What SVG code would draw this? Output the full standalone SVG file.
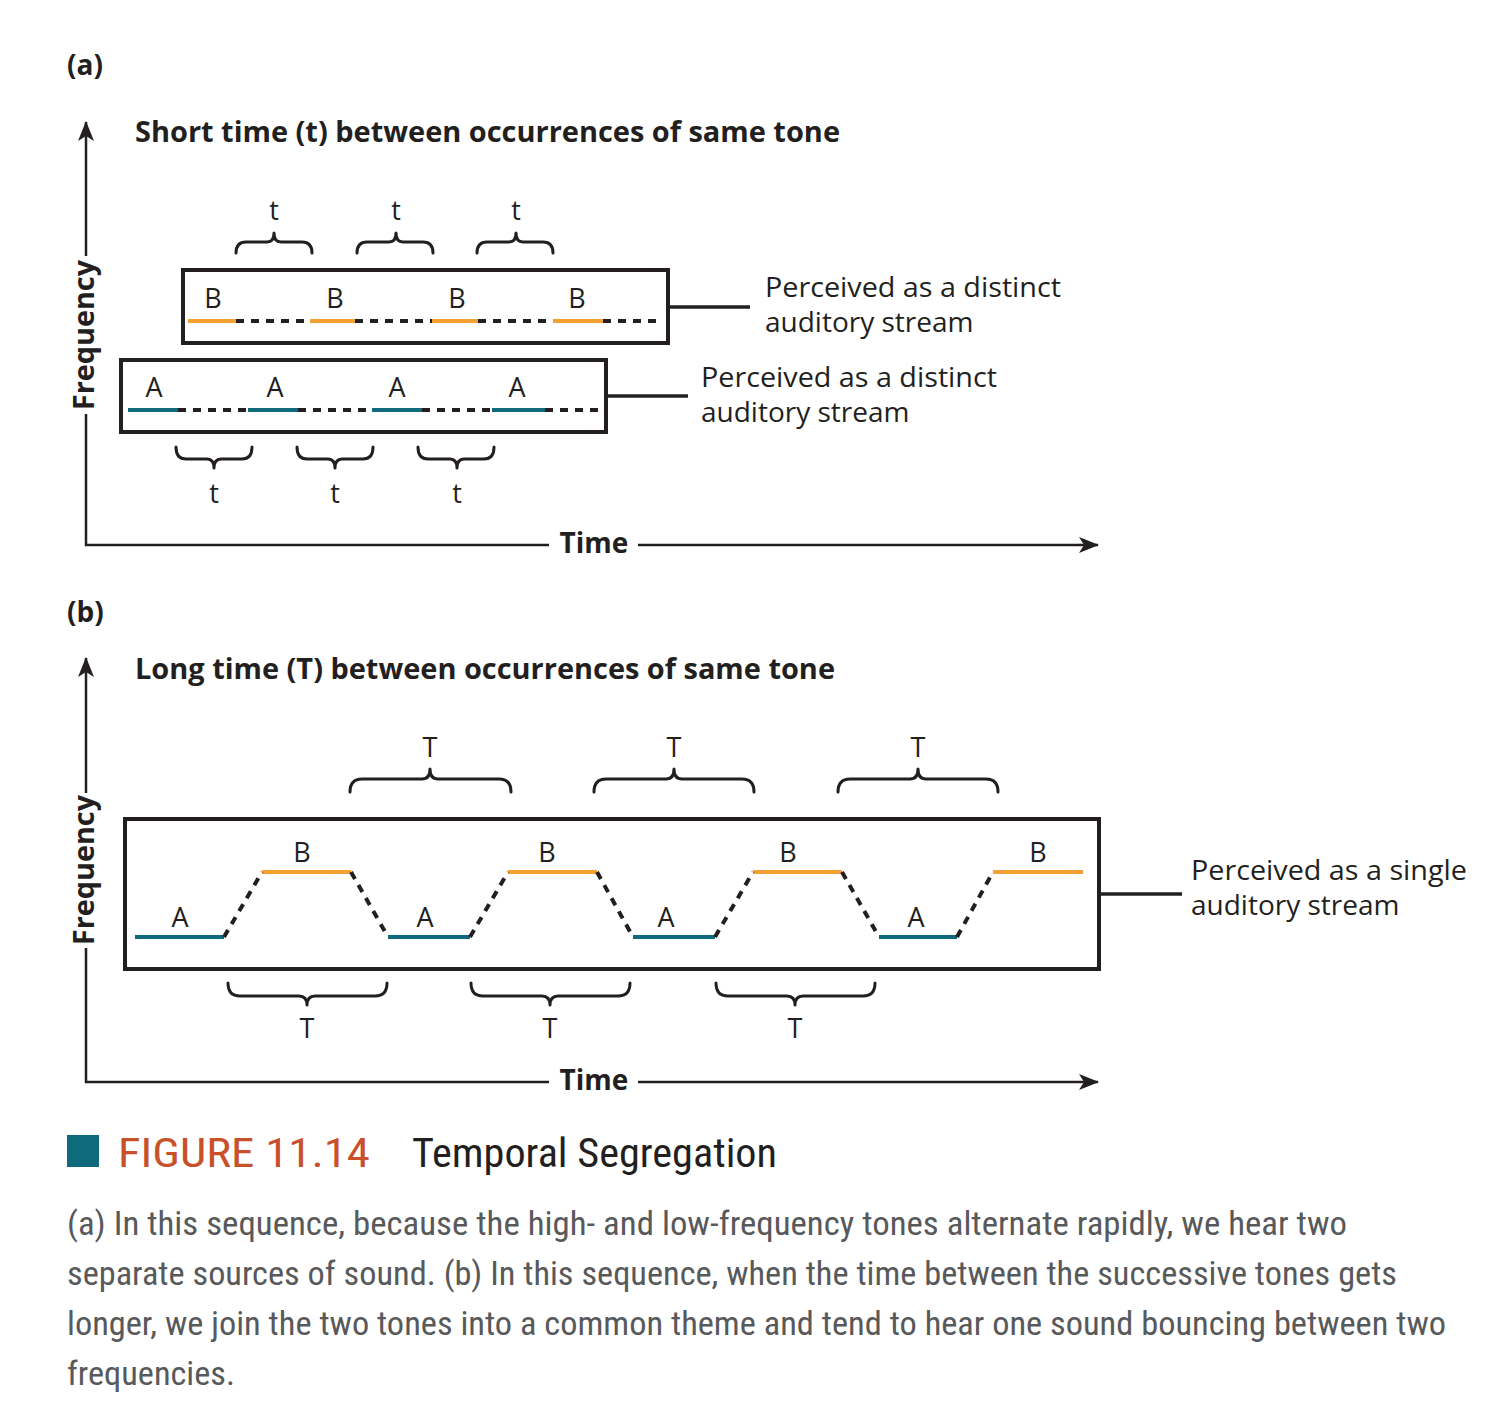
<svg xmlns="http://www.w3.org/2000/svg" width="1505" height="1418" viewBox="0 0 1505 1418">
<style>
.bg{fill:#fff}
.axis{stroke:#231f20;stroke-width:2.5;fill:none}
.box{stroke:#231f20;stroke-width:4;fill:none}
.conn{stroke:#231f20;stroke-width:3.5;fill:none}
.brace{stroke:#231f20;stroke-width:3;fill:none;stroke-linecap:round;stroke-linejoin:round}
.tb{stroke:#f5a033;stroke-width:4;fill:none}
.ta{stroke:#0f6a7c;stroke-width:4;fill:none}
.dash{stroke:#231f20;stroke-width:4;fill:none;stroke-dasharray:8 7}
.lbl{font-family:"Open Sans","Noto Sans","DejaVu Sans",sans-serif;font-size:27px;fill:#231f20}
.side{font-family:"Open Sans","Noto Sans","DejaVu Sans",sans-serif;font-size:28px;fill:#231f20}
.bold{font-family:"Open Sans","Noto Sans","DejaVu Sans",sans-serif;font-size:28px;font-weight:bold;fill:#231f20}
.cap{font-family:"Liberation Sans Narrow","Roboto Condensed","Liberation Sans",sans-serif;font-size:33px;fill:#58595b}
.fig{font-family:"Liberation Sans Narrow","Roboto Condensed","Liberation Sans",sans-serif;font-size:40px}
</style>
<defs>
<marker id="arr" viewBox="0 0 20 16" refX="19" refY="8" markerWidth="20" markerHeight="16" markerUnits="userSpaceOnUse" orient="auto">
<path d="M0 0 L20 8 L0 16 L5 8 Z" fill="#231f20"/>
</marker>
</defs>
<rect class="bg" width="1505" height="1418"/>

<!-- Panel (a) -->
<g id="panel-a-labels">
<text class="bold" x="67" y="75" font-size="26">(a)</text>
<text class="bold" x="135" y="142" textLength="705" lengthAdjust="spacingAndGlyphs">Short time (t) between occurrences of same tone</text>
<text class="bold" transform="translate(94 335) rotate(-90)" text-anchor="middle" textLength="150" lengthAdjust="spacingAndGlyphs">Frequency</text>
<text class="bold" x="594" y="553" text-anchor="middle">Time</text>
</g>
<g id="axes-a">
<line class="axis" x1="86" y1="256" x2="86" y2="122" marker-end="url(#arr)"/>
<polyline class="axis" points="86,414 86,545 549,545"/>
<line class="axis" x1="638" y1="545" x2="1098" y2="545" marker-end="url(#arr)"/>
</g>

<g id="streamB-a">
<rect class="box" x="183" y="270" width="485" height="73"/>
<line class="tb" x1="188" y1="321" x2="236" y2="321"/>
<line class="tb" x1="310" y1="321" x2="355" y2="321"/>
<line class="tb" x1="432" y1="321" x2="478" y2="321"/>
<line class="tb" x1="553" y1="321" x2="603" y2="321"/>
<line class="dash" x1="236" y1="321" x2="310" y2="321"/>
<line class="dash" x1="355" y1="321" x2="432" y2="321"/>
<line class="dash" x1="478" y1="321" x2="553" y2="321"/>
<line class="dash" x1="603" y1="321" x2="662" y2="321"/>
<text class="lbl" x="213" y="308" text-anchor="middle">B</text>
<text class="lbl" x="335" y="308" text-anchor="middle">B</text>
<text class="lbl" x="457" y="308" text-anchor="middle">B</text>
<text class="lbl" x="577" y="308" text-anchor="middle">B</text>
</g>
<g id="streamA-a">
<rect class="box" x="121" y="360" width="485" height="72"/>
<line class="ta" x1="128" y1="410" x2="178" y2="410"/>
<line class="ta" x1="248" y1="410" x2="298" y2="410"/>
<line class="ta" x1="372" y1="410" x2="422" y2="410"/>
<line class="ta" x1="492" y1="410" x2="545" y2="410"/>
<line class="dash" x1="178" y1="410" x2="248" y2="410"/>
<line class="dash" x1="298" y1="410" x2="372" y2="410"/>
<line class="dash" x1="422" y1="410" x2="492" y2="410"/>
<line class="dash" x1="545" y1="410" x2="600" y2="410"/>
<text class="lbl" x="154" y="397" text-anchor="middle">A</text>
<text class="lbl" x="275" y="397" text-anchor="middle">A</text>
<text class="lbl" x="397" y="397" text-anchor="middle">A</text>
<text class="lbl" x="517" y="397" text-anchor="middle">A</text>
</g>
<g id="label-B-a">
<text class="side" x="765" y="297" textLength="296" lengthAdjust="spacingAndGlyphs">Perceived as a distinct</text>
<text class="side" x="765" y="332">auditory stream</text>
</g>
<g id="label-A-a">
<text class="side" x="701" y="387" textLength="296" lengthAdjust="spacingAndGlyphs">Perceived as a distinct</text>
<text class="side" x="701" y="422">auditory stream</text>
</g>
<g id="braces-a">
<path class="brace" d="M236 253 Q236 242 246 242 L267 242 Q274 242 274 233 Q274 242 281 242 L302 242 Q312 242 312 253"/>
<path class="brace" d="M357 253 Q357 242 367 242 L389 242 Q396 242 396 233 Q396 242 403 242 L423 242 Q433 242 433 253"/>
<path class="brace" d="M477 253 Q477 242 487 242 L509 242 Q516 242 516 233 Q516 242 523 242 L543 242 Q553 242 553 253"/>
<text class="lbl" x="274" y="220" text-anchor="middle">t</text>
<text class="lbl" x="396" y="220" text-anchor="middle">t</text>
<text class="lbl" x="516" y="220" text-anchor="middle">t</text>
<path class="brace" d="M176 447 Q176 459 186 459 L207 459 Q214 459 214 468 Q214 459 221 459 L242 459 Q252 459 252 447"/>
<path class="brace" d="M297 447 Q297 459 307 459 L328 459 Q335 459 335 468 Q335 459 342 459 L363 459 Q373 459 373 447"/>
<path class="brace" d="M418 447 Q418 459 428 459 L450 459 Q457 459 457 468 Q457 459 464 459 L484 459 Q494 459 494 447"/>
<text class="lbl" x="214" y="503" text-anchor="middle">t</text>
<text class="lbl" x="335" y="503" text-anchor="middle">t</text>
<text class="lbl" x="457" y="503" text-anchor="middle">t</text>
</g>

<!-- Panel (b) -->
<g id="panel-b-labels">
<text class="bold" x="67" y="622" font-size="26">(b)</text>
<text class="bold" x="135" y="679" textLength="700" lengthAdjust="spacingAndGlyphs">Long time (T) between occurrences of same tone</text>
<text class="bold" transform="translate(94 870) rotate(-90)" text-anchor="middle" textLength="150" lengthAdjust="spacingAndGlyphs">Frequency</text>
<text class="bold" x="594" y="1090" text-anchor="middle">Time</text>
</g>
<g id="axes-b">
<line class="axis" x1="86" y1="793" x2="86" y2="658" marker-end="url(#arr)"/>
<polyline class="axis" points="86,948 86,1082 549,1082"/>
<line class="axis" x1="638" y1="1082" x2="1098" y2="1082" marker-end="url(#arr)"/>
</g>
<g id="stream-b">
<rect class="box" x="125" y="819" width="974" height="150"/>
<line class="tb" x1="262" y1="872" x2="351" y2="872"/>
<line class="tb" x1="508" y1="872" x2="597" y2="872"/>
<line class="tb" x1="753" y1="872" x2="842" y2="872"/>
<line class="tb" x1="993" y1="872" x2="1083" y2="872"/>
<line class="ta" x1="135" y1="937" x2="224" y2="937"/>
<line class="ta" x1="388" y1="937" x2="470" y2="937"/>
<line class="ta" x1="633" y1="937" x2="715" y2="937"/>
<line class="ta" x1="879" y1="937" x2="957" y2="937"/>
<line class="dash" x1="224" y1="937" x2="262" y2="872"/>
<line class="dash" x1="351" y1="872" x2="388" y2="937"/>
<line class="dash" x1="470" y1="937" x2="508" y2="872"/>
<line class="dash" x1="597" y1="872" x2="633" y2="937"/>
<line class="dash" x1="715" y1="937" x2="753" y2="872"/>
<line class="dash" x1="842" y1="872" x2="879" y2="937"/>
<line class="dash" x1="957" y1="937" x2="993" y2="872"/>
<text class="lbl" x="302" y="862" text-anchor="middle">B</text>
<text class="lbl" x="547" y="862" text-anchor="middle">B</text>
<text class="lbl" x="788" y="862" text-anchor="middle">B</text>
<text class="lbl" x="1038" y="862" text-anchor="middle">B</text>
<text class="lbl" x="180" y="927" text-anchor="middle">A</text>
<text class="lbl" x="425" y="927" text-anchor="middle">A</text>
<text class="lbl" x="666" y="927" text-anchor="middle">A</text>
<text class="lbl" x="916" y="927" text-anchor="middle">A</text>
</g>
<g id="label-b">
<text class="side" x="1191" y="880" textLength="276" lengthAdjust="spacingAndGlyphs">Perceived as a single</text>
<text class="side" x="1191" y="915">auditory stream</text>
</g>
<g id="braces-b">
<path class="brace" d="M350 792 Q350 779 362 779 L422 779 Q430 779 430 769 Q430 779 438 779 L499 779 Q511 779 511 792"/>
<path class="brace" d="M594 792 Q594 779 606 779 L666 779 Q674 779 674 769 Q674 779 682 779 L742 779 Q754 779 754 792"/>
<path class="brace" d="M838 792 Q838 779 850 779 L910 779 Q918 779 918 769 Q918 779 926 779 L986 779 Q998 779 998 792"/>
<text class="lbl" x="430" y="757" text-anchor="middle">T</text>
<text class="lbl" x="674" y="757" text-anchor="middle">T</text>
<text class="lbl" x="918" y="757" text-anchor="middle">T</text>
<path class="brace" d="M228 983 Q228 996 240 996 L299 996 Q307 996 307 1005 Q307 996 315 996 L375 996 Q387 996 387 983"/>
<path class="brace" d="M471 983 Q471 996 483 996 L542 996 Q550 996 550 1005 Q550 996 558 996 L618 996 Q630 996 630 983"/>
<path class="brace" d="M716 983 Q716 996 728 996 L787 996 Q795 996 795 1005 Q795 996 803 996 L863 996 Q875 996 875 983"/>
<text class="lbl" x="307" y="1038" text-anchor="middle">T</text>
<text class="lbl" x="550" y="1038" text-anchor="middle">T</text>
<text class="lbl" x="795" y="1038" text-anchor="middle">T</text>
</g>

<g id="connectors">
<line class="conn" x1="668" y1="307" x2="750" y2="307"/>
<line class="conn" x1="606" y1="396" x2="688" y2="396"/>
<line class="conn" x1="1099" y1="894" x2="1182" y2="894"/>
</g>

<!-- Caption -->
<g id="caption">
<rect x="67" y="1135" width="32" height="32" fill="#0f6a7c"/>
<text class="fig" x="118" y="1167" fill="#c8502a" textLength="252" lengthAdjust="spacingAndGlyphs">FIGURE 11.14</text>
<text class="fig" x="412" y="1167" fill="#231f20" textLength="365" lengthAdjust="spacingAndGlyphs">Temporal Segregation</text>
<text class="cap" x="67" y="1235" textLength="1280" lengthAdjust="spacingAndGlyphs">(a) In this sequence, because the high- and low-frequency tones alternate rapidly, we hear two</text>
<text class="cap" x="67" y="1285" textLength="1330" lengthAdjust="spacingAndGlyphs">separate sources of sound. (b) In this sequence, when the time between the successive tones gets</text>
<text class="cap" x="67" y="1335" textLength="1379" lengthAdjust="spacingAndGlyphs">longer, we join the two tones into a common theme and tend to hear one sound bouncing between two</text>
<text class="cap" x="67" y="1385" textLength="168" lengthAdjust="spacingAndGlyphs">frequencies.</text>
</g>
</svg>
